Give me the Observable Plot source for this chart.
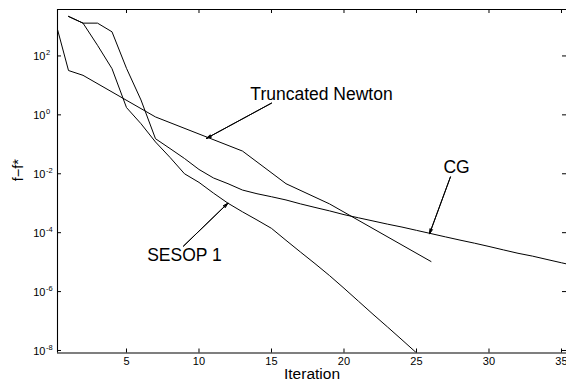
<!DOCTYPE html>
<html><head><meta charset="utf-8">
<script src="https://cdn.jsdelivr.net/npm/d3@7"></script>
<script src="https://cdn.jsdelivr.net/npm/@observablehq/plot@0.6"></script>
<style>
html,body{margin:0;padding:0;background:#fff;overflow:hidden;}
#chart{width:566px;height:383px;}
</style></head><body><div id="chart"></div>
<script>
// ---- data ----
const tnIter = [0, 1, 2, 7, 13, 16, 19, 26];
const tnVal  = [2.2e3, 3.2e1, 2.2e1, 8.5e-1, 5.9e-2, 4.6e-3, 9.5e-4, 1.05e-5];

const cgIter = [1,2,3,4,5,6,7,8,9,10,11,12,13,14,15,16,17,18,19,20,21,22,23,24,25,26,27,28,29,30,31,32,33,34,35,36];
const cgVal  = [2.2e3, 1.3e3, 1.3e3, 6.6e2, 3.8e1, 3.2, 1.55e-1, 7.2e-2, 3.3e-2, 1.4e-2,
                7.2e-3, 4.6e-3, 2.8e-3, 2.1e-3, 1.66e-3, 1.29e-3, 9.5e-4, 7.2e-4, 5.5e-4, 4.1e-4,
                3.2e-4, 2.5e-4, 1.95e-4, 1.55e-4, 1.2e-4, 9.3e-5, 7.2e-5, 5.6e-5, 4.4e-5, 3.4e-5,
                2.6e-5, 2.0e-5, 1.6e-5, 1.23e-5, 9.5e-6, 7.4e-6];

const sesopIter = [1,2,3,4,5,6,7,8,9,10,11,12,13,14,15,16,17,18,19,20,21,22,23,24,25];
const sesopVal  = [2.2e3, 1.3e3, 2.3e2, 3.7e1, 1.77, 5.0e-1, 1.2e-1, 3.6e-2, 1.0e-2, 5.1e-3,
                   2.2e-3, 1.0e-3, 5.1e-4, 2.7e-4, 1.4e-4, 5.5e-5, 2.2e-5, 8.9e-6, 3.5e-6, 1.3e-6,
                   4.7e-7, 1.7e-7, 6.3e-8, 2.3e-8, 8.3e-9];

const xTicks = [5, 10, 15, 20, 25, 30, 35];
const yTickExp = [-8, -6, -4, -2, 0, 2];

const annText = ["Truncated Newton", "CG", "SESOP 1"];
const annX = [18.45, 27.76, 9.0];
const annY = [5.0, 1.66e-2, 1.7e-5];
const arrX1 = [15.0, 27.34, 8.93];
const arrY1 = [2.5, 7.8e-3, 3.5e-5];
const arrX2 = [10.52, 25.9, 11.99];
const arrY2 = [0.16, 9.2e-5, 1.0e-3];

const xLabel = "Iteration";
const yLabel = "f\u2212f*";

// ---- build tables ----
const rows = [
  ...tnIter.map((x, i) => ({method: "Truncated Newton", iter: x, val: tnVal[i]})),
  ...cgIter.map((x, i) => ({method: "CG", iter: x, val: cgVal[i]})),
  ...sesopIter.map((x, i) => ({method: "SESOP 1", iter: x, val: sesopVal[i]}))
];
const ann = annText.map((t, i) => ({t, x: annX[i], y: annY[i], x1: arrX1[i], y1: arrY1[i], x2: arrX2[i], y2: arrY2[i]}));
const yTickVals = yTickExp.map(e => 10 ** e);

const W = 566, H = 383, mL = 57, mR = 0, mT = 9, mB = 30.5;
const innerW = W - mL - mR, innerH = H - mT - mB;
const xDomain = [0.2414, 35.345];
const yDomain = [10 ** -8.085, 10 ** 3.577];
const font = "'Liberation Sans', Arial, Helvetica, sans-serif";

const chart = Plot.plot({
  width: W, height: H,
  marginLeft: mL, marginRight: mR, marginTop: mT, marginBottom: mB,
  style: {background: "white", fontFamily: font, color: "black"},
  x: {domain: xDomain, axis: null},
  y: {type: "log", domain: yDomain, axis: null},
  marks: [
    // frame (left, top, bottom)
    Plot.ruleX([xDomain[0]], {stroke: "black", strokeWidth: 1.1}),
    Plot.ruleY(yDomain, {stroke: "black", strokeWidth: 1.1}),
    // inward ticks
    Plot.tickX(xTicks, {x: d => d, insetTop: innerH - 4, stroke: "black"}),
    Plot.tickX(xTicks, {x: d => d, insetBottom: innerH - 4, stroke: "black"}),
    Plot.tickY(yTickVals, {y: d => d, insetRight: innerW - 4, stroke: "black"}),
    Plot.tickY(yTickVals, {y: d => d, insetLeft: innerW - 4, stroke: "black"}),
    // tick labels
    Plot.text(xTicks, {x: d => d, text: d => String(d), frameAnchor: "bottom", dy: 8, lineAnchor: "middle", fontSize: 11, fill: "black"}),
    Plot.text(yTickVals, {y: d => d, text: () => "10", frameAnchor: "left", textAnchor: "end", dx: -12, dy: 1, lineAnchor: "middle", fontSize: 11, fill: "black"}),
    Plot.text(yTickExp, {y: e => 10 ** e, text: e => String(e), frameAnchor: "left", textAnchor: "start", dx: -11.5, dy: -3, lineAnchor: "middle", fontSize: 7.5, fill: "black"}),
    // axis titles
    Plot.text([xLabel], {text: d => d, frameAnchor: "bottom", dy: 21, lineAnchor: "middle", fontSize: 15.5, fill: "black"}),
    Plot.text([yLabel], {text: d => d, frameAnchor: "left", dx: -39, rotate: -90, lineAnchor: "middle", fontSize: 14.5, fill: "black"}),
    // curves
    Plot.line(rows, {x: "iter", y: "val", z: "method", stroke: "black", strokeWidth: 1, clip: true}),
    // annotations
    Plot.arrow(ann, {x1: "x1", y1: "y1", x2: "x2", y2: "y2", stroke: "black", strokeWidth: 1, headLength: 7.5, headAngle: 32}),
    Plot.arrow(ann, {x1: "x1", y1: "y1", x2: "x2", y2: "y2", stroke: "black", strokeWidth: 1, headLength: 7.5, headAngle: 14}),
    Plot.text(ann, {x: "x", y: "y", text: "t", fontSize: 17.5, lineAnchor: "middle", fill: "black"})
  ]
});
document.getElementById("chart").appendChild(chart);
</script>
</body></html>
